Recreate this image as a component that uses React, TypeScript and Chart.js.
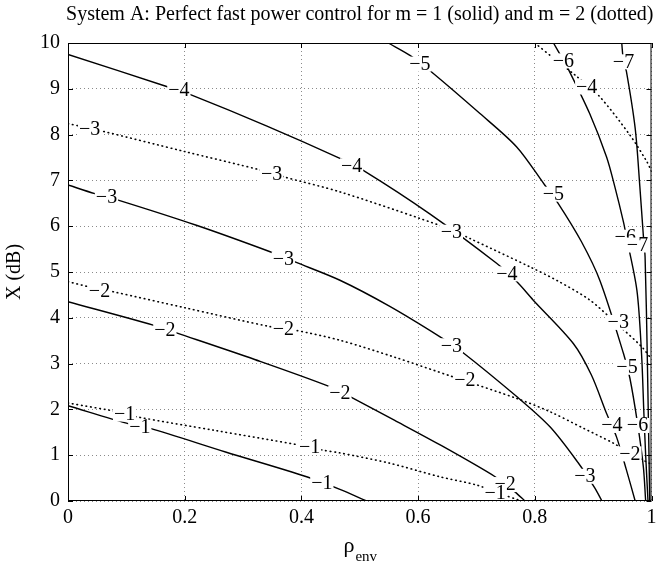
import React, { useEffect, useRef } from "react";
import { Chart, registerables } from "chart.js";
Chart.register(...registerables);

const TITLE = "System A: Perfect fast power control for m = 1 (solid) and m = 2 (dotted)";
const Y_TITLE = "X (dB)";
const X_TITLE_MAIN = "ρ";
const X_TITLE_SUB = "env";

// Solid contours (m = 1): [rho_env, X dB]
const solidMinus1 = [[0, 2.08], [0.106, 1.68], [0.14, 1.59], [0.27, 1.07], [0.409, 0.53], [0.466, 0.255], [0.512, 0]];
const solidMinus2 = [[0, 4.35], [0.146, 3.84], [0.186, 3.67], [0.32, 3.09], [0.452, 2.48], [0.489, 2.24], [0.56, 1.76], [0.637, 1.23], [0.732, 0.53], [0.766, 0.2], [0.783, 0]];
const solidMinus3 = [[0, 6.9], [0.046, 6.71], [0.086, 6.57], [0.22, 6.02], [0.351, 5.42], [0.389, 5.22], [0.466, 4.82], [0.55, 4.26], [0.637, 3.59], [0.675, 3.26], [0.769, 2.28], [0.826, 1.62], [0.874, 0.84], [0.903, 0.28], [0.915, 0]];
const solidMinus4 = [[0, 9.75], [0.169, 9.05], [0.212, 8.86], [0.34, 8.19], [0.466, 7.48], [0.506, 7.22], [0.62, 6.27], [0.7345, 5.19], [0.769, 4.79], [0.797, 4.39], [0.866, 3.44], [0.897, 2.75], [0.923, 1.91], [0.94, 1.4], [0.957, 0.68], [0.972, 0]];
const solidMinus5 = [[0.549, 10], [0.586, 9.73], [0.62, 9.4], [0.706, 8.46], [0.769, 7.73], [0.817, 6.9], [0.84, 6.5], [0.88, 5.66], [0.912, 4.8], [0.952, 3.22], [0.963, 2.68], [0.976, 1.7], [0.986, 0.75], [0.99, 0]];
const solidMinus6 = [[0.832, 10], [0.849, 9.62], [0.857, 9.44], [0.894, 8.46], [0.923, 7.51], [0.937, 6.87], [0.952, 6.09], [0.957, 5.77], [0.975, 4.6], [0.983, 3.2], [0.987, 1.9], [0.99, 1.0], [0.994, 0]];
const solidMinus7 = [[0.949, 10], [0.952, 9.6], [0.957, 9.38], [0.972, 8.14], [0.98, 6.87], [0.986, 5.8], [0.989, 5.33], [0.993, 3.0], [0.997, 0]];

// Dotted contours (m = 2)
const dottedMinus1 = [[0, 2.14], [0.097, 1.92], [0.117, 1.84], [0.25, 1.545], [0.397, 1.22], [0.437, 1.11], [0.466, 1.05], [0.55, 0.83], [0.637, 0.53], [0.7, 0.35], [0.732, 0.2], [0.777, 0]];
const dottedMinus2 = [[0, 4.79], [0.054, 4.62], [0.077, 4.57], [0.2, 4.22], [0.349, 3.8], [0.389, 3.73], [0.466, 3.51], [0.56, 3.14], [0.66, 2.71], [0.769, 2.24], [0.826, 1.95], [0.883, 1.59], [0.935, 1.26], [0.963, 1.04], [1.0, 0.8]];
const dottedMinus3 = [[0, 8.24], [0.054, 8.09], [0.2, 7.63], [0.332, 7.22], [0.369, 7.08], [0.466, 6.75], [0.603, 6.17], [0.657, 5.92], [0.689, 5.73], [0.792, 5.11], [0.84, 4.8], [0.894, 4.39], [0.937, 3.91], [0.983, 3.37], [1.0, 3.1]];
const dottedMinus4 = [[0.8, 10], [0.832, 9.67], [0.869, 9.3], [0.909, 8.86], [0.963, 7.99], [0.992, 7.41], [1.0, 7.2]];

// Contour labels: [rho_env, X dB, text]
const solidLabels: [number, number, string][] = [
  [0.123, 1.62, "−1"], [0.435, 0.4, "−1"],
  [0.166, 3.75, "−2"], [0.466, 2.37, "−2"], [0.749, 0.37, "−2"],
  [0.066, 6.64, "−3"], [0.369, 5.3, "−3"], [0.657, 3.4, "−3"], [0.886, 0.55, "−3"],
  [0.19, 8.97, "−4"], [0.486, 7.33, "−4"], [0.752, 4.97, "−4"], [0.932, 1.66, "−4"],
  [0.603, 9.55, "−5"], [0.832, 6.71, "−5"], [0.958, 2.93, "−5"],
  [0.849, 9.62, "−6"], [0.955, 5.77, "−6"], [0.976, 1.66, "−6"],
  [0.952, 9.6, "−7"], [0.976, 5.6, "−7"],
];
const dottedLabels: [number, number, string][] = [
  [0.097, 1.91, "−1"], [0.414, 1.18, "−1"], [0.732, 0.17, "−1"],
  [0.054, 4.6, "−2"], [0.369, 3.77, "−2"], [0.68, 2.64, "−2"], [0.963, 1.04, "−2"],
  [0.037, 8.13, "−3"], [0.349, 7.15, "−3"], [0.657, 5.88, "−3"], [0.943, 3.91, "−3"],
  [0.889, 9.05, "−4"],
];

const solidSeries = [solidMinus1, solidMinus2, solidMinus3, solidMinus4, solidMinus5, solidMinus6, solidMinus7];
const dottedSeries = [dottedMinus1, dottedMinus2, dottedMinus3, dottedMinus4];

const SERIF = '"Liberation Serif", "Times New Roman", serif';

const decorPlugin = {
  id: "decor",
  afterDraw(chart: any) {
    const { ctx, chartArea, scales } = chart;
    const { left, right, top, bottom } = chartArea;
    const xs = scales.x, ys = scales.y;
    ctx.save();
    // contour labels
    ctx.font = `20px ${SERIF}`;
    ctx.textAlign = "center";
    ctx.textBaseline = "middle";
    for (const [lx, ly, t] of [...solidLabels, ...dottedLabels]) {
      const px = xs.getPixelForValue(lx);
      const py = ys.getPixelForValue(ly);
      const w = ctx.measureText(t).width;
      ctx.fillStyle = "#fff";
      ctx.fillRect(px - w / 2 - 1, py - 7, w + 2, 15);
      ctx.fillStyle = "#000";
      ctx.fillText(t, px, py + 1);
    }
    // frame
    ctx.strokeStyle = "#000";
    ctx.lineWidth = 1;
    ctx.strokeRect(left + 0.5, top + 0.5, right - left - 1, bottom - top - 1);
    // inner ticks
    ctx.beginPath();
    for (const t of xs.ticks) {
      const px = Math.round(xs.getPixelForValue(t.value)) + 0.5;
      ctx.moveTo(px, bottom); ctx.lineTo(px, bottom - 5);
      ctx.moveTo(px, top); ctx.lineTo(px, top + 5);
    }
    for (const t of ys.ticks) {
      const py = Math.round(ys.getPixelForValue(t.value)) + 0.5;
      ctx.moveTo(left, py); ctx.lineTo(left + 5, py);
      ctx.moveTo(right, py); ctx.lineTo(right - 5, py);
    }
    ctx.stroke();
    // title
    ctx.fillStyle = "#000";
    ctx.font = `20px ${SERIF}`;
    ctx.textAlign = "center";
    ctx.textBaseline = "alphabetic";
    ctx.fillText(TITLE, (left + right) / 2, 20);
    // y title
    ctx.save();
    ctx.translate(15, (top + bottom) / 2);
    ctx.rotate(-Math.PI / 2);
    ctx.textBaseline = "middle";
    ctx.fillText(Y_TITLE, 0, 0);
    ctx.restore();
    // x title with subscript
    ctx.textAlign = "left";
    ctx.font = `22px ${SERIF}`;
    const wMain = ctx.measureText(X_TITLE_MAIN).width;
    ctx.font = `15px ${SERIF}`;
    const wSub = ctx.measureText(X_TITLE_SUB).width;
    const x0 = (left + right) / 2 - (wMain + wSub) / 2;
    ctx.font = `22px ${SERIF}`;
    ctx.fillText(X_TITLE_MAIN, x0, 552);
    ctx.font = `15px ${SERIF}`;
    ctx.fillText(X_TITLE_SUB, x0 + wMain + 1, 561);
    ctx.restore();
  },
};

export default function App() {
  const ref = useRef<HTMLCanvasElement | null>(null);
  useEffect(() => {
    if (!ref.current) return;
    const toPts = (arr: number[][]) => arr.map(([x, y]) => ({ x, y }));
    const datasets: any[] = [];
    solidSeries.forEach((s, i) => {
      datasets.push({
        label: `m=1 ${-(i + 1)}`,
        data: toPts(s),
        borderColor: "#000",
        borderWidth: 1.4,
        pointRadius: 0,
        tension: 0.3,
        fill: false,
      });
    });
    dottedSeries.forEach((s, i) => {
      datasets.push({
        label: `m=2 ${-(i + 1)}`,
        data: toPts(s),
        borderColor: "#000",
        borderWidth: 1.6,
        borderDash: [0.6, 4],
        borderCapStyle: "round",
        pointRadius: 0,
        tension: 0.3,
        fill: false,
      });
    });
    const chart = new Chart(ref.current, {
      type: "line",
      data: { datasets },
      options: {
        animation: false,
        responsive: true,
        maintainAspectRatio: false,
        layout: { padding: { top: 43, right: 11.5, left: 0, bottom: 0 } },
        plugins: { legend: { display: false }, tooltip: { enabled: false }, title: { display: false } },
        scales: {
          x: {
            type: "linear",
            min: 0,
            max: 1,
            afterFit: (s: any) => { s.height = 64; },
            ticks: {
              stepSize: 0.2,
              padding: 5,
              color: "#000",
              font: { family: SERIF, size: 20 },
              callback: (v: any) => String(Number(Number(v).toFixed(1))),
            },
            grid: { color: "#8a8a8a", lineWidth: 1, drawTicks: false },
            border: { display: false, dash: [1, 3] },
          },
          y: {
            type: "linear",
            min: 0,
            max: 10,
            afterFit: (s: any) => { s.width = 68; },
            ticks: {
              stepSize: 1,
              padding: 8,
              color: "#000",
              font: { family: SERIF, size: 20 },
            },
            grid: { color: "#8a8a8a", lineWidth: 1, drawTicks: false },
            border: { display: false, dash: [1, 3] },
          },
        },
      },
      plugins: [decorPlugin],
    });
    return () => chart.destroy();
  }, []);
  return (
    <div style={{ position: "fixed", left: 0, top: 0, width: 663, height: 565, background: "#fff" }}>
      <canvas ref={ref} />
    </div>
  );
}
